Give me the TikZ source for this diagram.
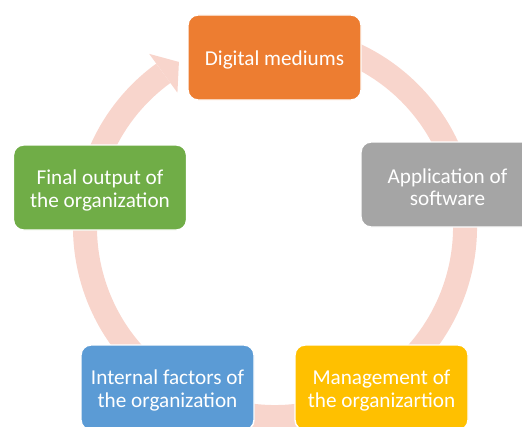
\documentclass[tikz,border=0pt]{standalone}
\usepackage{fontspec}
\setmainfont{Carlito}
\definecolor{arcpink}{HTML}{F8D5CC}
\definecolor{cOrange}{HTML}{ED7D31}
\definecolor{cGray}{HTML}{A5A5A5}
\definecolor{cYellow}{HTML}{FFC000}
\definecolor{cBlue}{HTML}{5B9BD5}
\definecolor{cGreen}{HTML}{70AD47}
\begin{document}
\begin{tikzpicture}[x=0.75pt,y=0.75pt,
  stagebox/.style={draw=white, line width=1.1pt, rounded corners=7.5pt,
    minimum width=129.75pt, minimum height=63.75pt, inner sep=0pt},
  stagetext/.style={text=white, align=center, inner sep=0pt, yshift=-2.2pt,
    font=\fontsize{15.9}{16.8}\selectfont}]
\useasboundingbox (0,0) rectangle (522,426);
\clip (0,0) rectangle (522,426);
\coordinate (c) at (275,199);
% cycle arc
\begin{scope}[shift={(c)}]
  \draw[arcpink, line width=18pt] (105:190) arc[start angle=105, end angle=-234, radius=190];
  \fill[arcpink] (126:166) -- (120.2:191) -- (126:214) -- cycle;
\end{scope}
% stages
\node[stagebox, fill=cOrange] (dm) at (274.5,368.5) {};
\node[stagebox, fill=cGray] (as) at (447.5,241.5) {};
\node[stagebox, fill=cYellow] (mo) at (381.5,38.5) {};
\node[stagebox, fill=cBlue] (if) at (167.5,38.5) {};
\node[stagebox, fill=cGreen] (fo) at (100,238.5) {};
\node[stagetext] (dmt) at (dm.center) {Digital mediums};
\node[stagetext] (ast) at (as.center) {Application of\\software};
\node[stagetext] (mot) at (mo.center) {Management of\\the organizartion};
\node[stagetext] (ift) at (if.center) {Internal factors of\\the organization};
\node[stagetext] (fot) at (fo.center) {Final output of\\the organization};
\end{tikzpicture}
\end{document}
